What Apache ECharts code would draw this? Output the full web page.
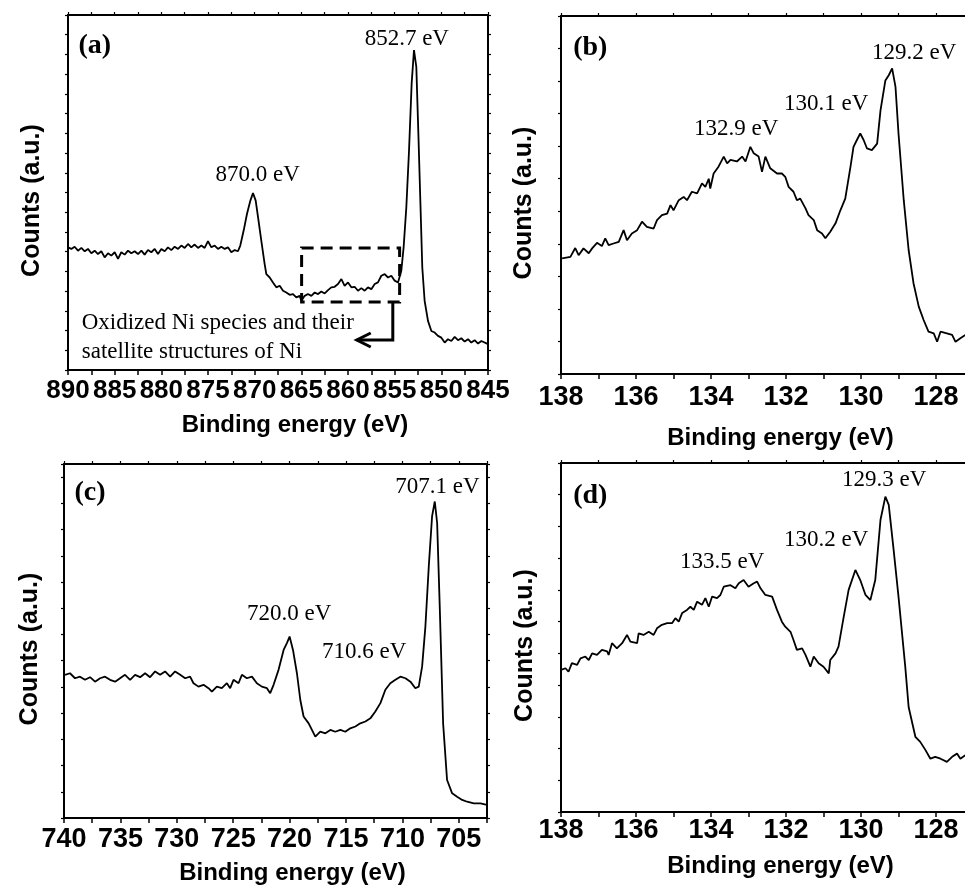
<!DOCTYPE html>
<html><head><meta charset="utf-8">
<script src="https://cdn.jsdelivr.net/npm/echarts@6/dist/echarts.min.js"></script>
<style>html,body{margin:0;padding:0;background:#fff}#c{width:965px;height:886px}</style>
</head><body><div id="c"></div>
<script>
// ---- data: [binding energy (eV), counts (a.u.)] ----
const ni2pSpectrum = [
[890,6.22],[889.64,6.14],[889.29,6.25],[888.93,6.05],[888.57,6.19],[888.21,6.02],[887.86,6.14],[887.5,5.92],[887.14,6.05],[886.79,5.88],
[886.43,6.02],[886.07,5.71],[885.71,5.92],[885.36,5.8],[885.0,5.97],[884.64,5.63],[884.29,5.97],[883.93,5.85],[883.57,6.05],[883.21,5.92],
[882.86,6.02],[882.5,5.88],[882.14,6.05],[881.79,5.85],[881.43,6.08],[881.07,5.97],[880.71,6.14],[880.36,5.88],[880.0,6.14],[879.64,6.02],
[879.29,6.22],[878.93,6.08],[878.57,6.25],[878.21,6.14],[877.86,6.31],[877.5,6.19],[877.14,6.39],[876.79,6.22],[876.43,6.36],[876.07,6.19],
[875.71,6.31],[875.36,6.19],[875.0,6.53],[874.64,6.22],[874.29,6.31],[873.93,6.14],[873.57,6.25],[873.21,6.14],[872.86,6.22],[872.5,5.97],
[872.14,6.08],[871.79,6.02],
[871.54,6.31],[871.18,7.07],[870.82,7.92],[870.46,8.59],[870.18,8.97],[869.89,8.59],[869.64,7.75],[869.29,6.56],[868.93,5.37],
[868.75,4.86],[868.39,4.69],[868.04,4.44],[867.68,4.19],[867.32,4.27],[866.96,4.02],[866.61,3.93],[866.25,3.81],[865.89,3.85],[865.54,3.68],[865.18,3.76],[865.0,3.51],
[864.64,3.76],[864.29,3.85],[863.93,3.76],[863.57,3.93],[863.21,3.85],[862.86,3.98],[862.5,3.88],[862.14,4.05],[861.79,4.19],[861.43,4.22],
[861.07,4.36],[860.71,4.61],[860.36,4.27],[860.0,4.44],[859.64,4.19],[859.29,4.22],[858.93,4.02],[858.57,4.15],[858.21,4.02],[857.86,4.19],
[857.5,4.1],[857.14,4.36],[856.79,4.44],[856.43,4.78],[856.07,4.86],[855.71,4.69],[855.36,4.78],[855.0,4.53],[854.64,4.44],[854.29,5.03],
[854.04,6.22],[853.75,8.25],[853.46,11.14],[853.18,14.53],[852.93,16.22],[852.68,15.37],[852.46,11.98],[852.25,8.59],[852.04,5.2],[851.79,3.51],
[851.43,2.49],[851.07,1.98],[850.71,1.9],[850.36,1.73],[850.0,1.64],[849.64,1.39],[849.29,1.56],[848.93,1.47],[848.57,1.68],[848.21,1.51],
[847.86,1.61],[847.5,1.44],[847.14,1.56],[846.79,1.39],[846.43,1.51],[846.07,1.34],[845.71,1.47],[845.0,1.31]
];
const p2pSpectrumB = [
[137.97,3.55],[137.75,3.6],[137.62,3.87],[137.53,3.65],[137.4,3.86],[137.26,3.71],[137.17,3.86],[137.04,4.03],[136.91,3.93],[136.82,4.17],
[136.73,3.96],[136.6,4.01],[136.46,4.06],[136.33,4.42],[136.24,4.11],[136.11,4.32],[135.97,4.42],[135.84,4.68],[135.71,4.52],[135.53,4.47],
[135.44,4.73],[135.31,4.88],[135.17,4.93],[135.08,5.19],[135.0,5.03],[134.86,5.34],[134.73,5.44],[134.64,5.34],[134.51,5.6],[134.37,5.55],
[134.24,5.86],[134.15,5.75],[134.06,6.0],[134.02,5.7],[133.93,6.16],[133.8,6.37],[133.66,6.68],[133.57,6.47],[133.48,6.58],[133.31,6.53],
[133.17,6.68],[133.08,6.53],[132.95,6.98],[132.86,6.78],[132.73,6.68],[132.64,6.21],[132.55,6.68],[132.42,6.32],[132.24,6.16],[132.11,6.16],
[132.02,6.06],[131.93,5.75],[131.8,5.6],[131.71,5.34],[131.62,5.39],[131.48,5.09],[131.4,4.88],[131.26,4.73],[131.17,4.42],[131.04,4.32],
[130.95,4.17],[130.82,4.37],[130.68,4.63],[130.55,5.03],[130.42,5.39],[130.28,6.37],[130.2,6.98],[130.11,7.19],[130.02,7.39],[129.93,7.19],
[129.84,6.93],[129.71,6.88],[129.57,7.08],[129.48,8.1],[129.35,9.02],[129.26,9.18],[129.17,9.39],[129.08,8.82],[129.0,7.39],[128.86,5.34],
[128.73,3.81],[128.6,2.79],[128.46,2.07],[128.33,1.66],[128.2,1.3],[128.06,1.25],[127.97,0.99],[127.88,1.3],[127.71,1.25],[127.57,1.2],
[127.48,0.99],[127.35,1.1],[127.22,1.2]
];
const fe2pSpectrum = [
[739.91,5.46],[739.47,5.52],[739.02,5.33],[738.58,5.39],[738.14,5.27],[737.69,5.37],[737.25,5.2],[736.8,5.33],[736.36,5.39],[735.92,5.27],
[735.47,5.2],[735.03,5.33],[734.59,5.46],[734.14,5.27],[733.7,5.46],[733.25,5.37],[732.81,5.52],[732.37,5.37],[731.92,5.59],[731.48,5.46],
[731.04,5.59],[730.59,5.39],[730.15,5.59],[729.7,5.46],[729.26,5.33],[728.82,5.39],[728.52,5.14],[728.08,5.01],[727.63,5.08],[727.19,4.95],
[726.89,4.82],[726.45,5.01],[726.01,4.95],[725.56,5.14],[725.27,4.95],[724.97,5.27],[724.53,5.14],[724.23,5.46],[723.79,5.33],[723.34,5.39],
[722.9,5.14],[722.46,5.01],[722.01,4.95],[721.72,4.76],[721.42,5.08],[720.98,5.65],[720.53,6.41],[720.24,6.67],[720.0,6.92],[719.7,6.41],
[719.35,5.52],[719.05,4.5],[718.76,3.87],[718.31,3.61],[718.02,3.36],[717.72,3.1],[717.28,3.29],[716.83,3.23],[716.39,3.36],[715.95,3.29],
[715.5,3.36],[715.06,3.29],[714.62,3.42],[714.17,3.49],[713.73,3.61],[713.28,3.68],[712.84,3.8],[712.4,4.06],[711.95,4.38],[711.51,4.89],
[711.07,5.14],[710.62,5.27],[710.18,5.39],[709.73,5.33],[709.29,5.2],[708.85,4.95],[708.55,5.01],[708.25,5.78],[707.96,7.31],[707.66,9.6],
[707.37,11.5],[707.13,12.07],[706.92,11.25],[706.69,8.07],[706.39,3.61],[706.04,1.45],[705.59,0.94],[705.15,0.81],[704.7,0.69],[704.26,0.62],
[703.67,0.56],[703.08,0.56],[702.5,0.5]
];
const p2pSpectrumD = [
[138.0,4.48],[137.88,4.53],[137.8,4.42],[137.71,4.69],[137.57,4.64],[137.48,4.84],[137.35,4.9],[137.26,4.79],[137.17,5.0],[137.04,4.95],
[136.91,5.11],[136.77,5.06],[136.73,4.95],[136.64,5.32],[136.51,5.16],[136.37,5.32],[136.24,5.58],[136.15,5.37],[135.97,5.32],[135.93,5.63],
[135.8,5.58],[135.66,5.68],[135.53,5.58],[135.44,5.79],[135.31,5.9],[135.17,5.95],[135.04,5.95],[134.95,6.11],[134.86,6.0],[134.77,6.27],
[134.64,6.37],[134.55,6.47],[134.46,6.37],[134.37,6.63],[134.24,6.53],[134.15,6.74],[134.06,6.47],[133.97,6.79],[133.84,6.74],[133.75,6.84],
[133.66,7.1],[133.48,7.15],[133.35,7.05],[133.26,7.21],[133.13,7.31],[133.0,7.1],[132.86,7.21],[132.77,7.26],[132.68,7.05],[132.55,6.84],
[132.37,6.79],[132.24,6.37],[132.11,6.0],[132.02,5.84],[131.88,5.68],[131.8,5.42],[131.71,5.11],[131.57,5.16],[131.48,4.95],[131.35,4.58],
[131.26,4.9],[131.13,4.69],[131.0,4.58],[130.86,4.37],[130.82,4.79],[130.68,5.0],[130.6,5.21],[130.46,6.16],[130.33,7.0],[130.15,7.63],
[130.02,7.31],[129.88,6.84],[129.75,6.68],[129.62,7.31],[129.48,9.21],[129.35,9.94],[129.26,9.68],[129.13,8.26],[129.0,6.79],[128.82,4.58],
[128.73,3.31],[128.55,2.37],[128.42,2.21],[128.28,1.95],[128.15,1.68],[128.02,1.74],[127.88,1.68],[127.71,1.58],[127.57,1.74],[127.44,1.84],
[127.35,1.68],[127.22,1.79]
];
const spectra = [ni2pSpectrum, p2pSpectrumB, fe2pSpectrum, p2pSpectrumD];

// ---- axes ----
const xRanges = [[890, 845], [138, 127.2], [740, 702.5], [138, 127.2]]; // left -> right
const xTickSteps = [5, 2, 5, 2];
const yTops = [18, 11, 13.5, 11];
const xTitle = 'Binding energy (eV)';
const yTitle = 'Counts (a.u.)';
const panelTags = ['(a)', '(b)', '(c)', '(d)'];

// ---- annotations (data coordinates) ----
const tagAt = [[887.13, 16.43], [137.22, 10.02], [737.69, 12.4], [137.22, 9.96]];
const peakLabels = [
  {panel: 0, text: '852.7 eV', at: [853.7, 16.78]},
  {panel: 0, text: '870.0 eV', at: [869.67, 9.91]},
  {panel: 1, text: '129.2 eV', at: [128.58, 9.86]},
  {panel: 1, text: '130.1 eV', at: [130.93, 8.29]},
  {panel: 1, text: '132.9 eV', at: [133.33, 7.53]},
  {panel: 2, text: '707.1 eV', at: [706.9, 12.62]},
  {panel: 2, text: '720.0 eV', at: [720.04, 7.78]},
  {panel: 2, text: '710.6 eV', at: [713.38, 6.33]},
  {panel: 3, text: '129.3 eV', at: [129.38, 10.46]},
  {panel: 3, text: '130.2 eV', at: [130.93, 8.57]},
  {panel: 3, text: '133.5 eV', at: [133.7, 7.88]}
];
const noteLines = ['Oxidized Ni species and their', 'satellite structures of Ni'];
const noteAt = [[888.53, 2.38], [888.53, 0.91]];
const satBox = [[864.97, 6.19], [854.47, 3.45]];
const arrowPath = [[855.2, 3.45], [855.2, 1.52], [859.06, 1.52]];

// ---- layout ----
const layout = [
  {left: 68,  top: 15,  width: 420, height: 355, lblMargin: 8,  xGap: 43, yGap: 23, tick: 26},
  {left: 561, top: 16,  width: 405, height: 358, lblMargin: 10, xGap: 52, yGap: 24, tick: 27},
  {left: 64,  top: 464, width: 423, height: 354, lblMargin: 8,  xGap: 43, yGap: 21, tick: 27},
  {left: 561, top: 463, width: 405, height: 349, lblMargin: 5,  xGap: 42, yGap: 23, tick: 27}
];

function fontAvailable(name) {
  const ctx = document.createElement('canvas').getContext('2d');
  const s = 'Binding energy 0123456789';
  ctx.font = 'bold 40px monospace';
  const a = ctx.measureText(s).width;
  ctx.font = 'bold 40px "' + name + '", monospace';
  const b = ctx.measureText(s).width;
  return Math.abs(a - b) > 0.5;
}
const narrow = fontAvailable('Liberation Sans Narrow');
const SANS = narrow ? '"Liberation Sans Narrow", "Liberation Sans", Arial, sans-serif' : '"Liberation Sans", Arial, sans-serif';
const xTitleSize = narrow ? 28 : 24;
const yTitleSize = narrow ? 30 : 25;
const SERIF = '"Liberation Serif", "Times New Roman", serif';

const chart = echarts.init(document.getElementById('c'), null, {renderer: 'canvas'});
const grid = [], xAxis = [], yAxis = [], series = [];
const black = '#000';
for (let i = 0; i < 4; i++) {
  const L = layout[i];
  grid.push({left: L.left, top: L.top, width: L.width, height: L.height, containLabel: false, outerBoundsMode: 'none'});
  const min = -xRanges[i][0], max = -xRanges[i][1], step = xTickSteps[i];
  xAxis.push({
    type: 'value', gridIndex: i, position: 'bottom', min: min, max: max, interval: step,
    axisLine: {show: true, onZero: false, lineStyle: {color: black, width: 2}},
    axisTick: {show: true, inside: false, length: 5, lineStyle: {color: black, width: 1.5}},
    minorTick: {show: true, splitNumber: 2, length: 5, lineStyle: {color: black, width: 1.5}},
    splitLine: {show: false}, minorSplitLine: {show: false},
    axisLabel: {
      show: true, margin: L.lblMargin, color: black, fontFamily: SANS, fontWeight: 'bold', fontSize: narrow ? 31 : L.tick,
      showMinLabel: true, showMaxLabel: true,
      formatter: function (v) { const e = -v; const r = e / step; return Math.abs(r - Math.round(r)) < 1e-6 ? String(Math.round(e)) : ''; }
    },
    name: xTitle, nameLocation: 'middle', nameGap: L.xGap,
    nameTextStyle: {color: black, fontFamily: SANS, fontWeight: 'bold', fontSize: xTitleSize, padding: [0, 0, 0, 34]}
  });
  xAxis.push({
    type: 'value', gridIndex: i, position: 'top', min: min, max: max, interval: step / 2,
    axisLine: {show: true, onZero: false, lineStyle: {color: black, width: 2}},
    axisTick: {show: true, inside: false, length: 3, lineStyle: {color: black, width: 1.2}},
    axisLabel: {show: false}, splitLine: {show: false}
  });
  yAxis.push({
    type: 'value', gridIndex: i, position: 'left', min: 0, max: yTops[i], interval: 1,
    axisLine: {show: true, onZero: false, lineStyle: {color: black, width: 2}},
    axisTick: {show: true, inside: false, length: 3, lineStyle: {color: black, width: 1.2}},
    axisLabel: {show: false}, splitLine: {show: false},
    name: yTitle, nameLocation: 'middle', nameGap: L.yGap,
    nameTextStyle: {color: black, fontFamily: SANS, fontWeight: 'bold', fontSize: yTitleSize, padding: [0, 16, 0, 0]}
  });
  yAxis.push({
    type: 'value', gridIndex: i, position: 'right', min: 0, max: yTops[i], interval: 1,
    axisLine: {show: true, onZero: false, lineStyle: {color: black, width: 2}},
    axisTick: {show: true, inside: false, length: 3, lineStyle: {color: black, width: 1.2}},
    axisLabel: {show: false}, splitLine: {show: false}
  });
  series.push({
    type: 'line', xAxisIndex: 2 * i, yAxisIndex: 2 * i,
    data: spectra[i].map(function (p) { return [-p[0], p[1]]; }),
    showSymbol: false, symbol: 'none', silent: true,
    lineStyle: {color: black, width: 1.8}
  });
}
chart.setOption({animation: false, backgroundColor: '#fff', grid: grid, xAxis: xAxis, yAxis: yAxis, series: series});

function px(i, p) { return chart.convertToPixel({seriesIndex: i}, [-p[0], p[1]]); }
const els = [];
function txt(p, text, size, weight, family, align) {
  els.push({type: 'text', x: p[0], y: p[1], silent: true, z: 100,
    style: {text: text, fill: black, fontSize: size, fontWeight: weight, fontFamily: family,
      align: align, verticalAlign: 'middle', textAlign: align, textVerticalAlign: 'middle'}});
}
for (let i = 0; i < 4; i++) txt(px(i, tagAt[i]), panelTags[i], 28, 'bold', SERIF, 'center');
peakLabels.forEach(function (l) { txt(px(l.panel, l.at), l.text, 23, 'normal', SERIF, 'center'); });
noteLines.forEach(function (t, k) { txt(px(0, noteAt[k]), t, 23, 'normal', SERIF, 'left'); });
const b0 = px(0, satBox[0]), b1 = px(0, satBox[1]);
els.push({type: 'rect', silent: true, z: 100, shape: {x: b0[0], y: b0[1], width: b1[0] - b0[0], height: b1[1] - b0[1]},
  style: {fill: 'none', stroke: black, lineWidth: 3, lineDash: [12, 7]}});
const ap = arrowPath.map(function (p) { return px(0, p); });
els.push({type: 'polyline', silent: true, z: 100, shape: {points: ap}, style: {fill: 'none', stroke: black, lineWidth: 3}});
const tip = ap[ap.length - 1];
els.push({type: 'polyline', silent: true, z: 100, shape: {points: [[tip[0] + 14, tip[1] - 7], tip, [tip[0] + 14, tip[1] + 7]]},
  style: {fill: 'none', stroke: black, lineWidth: 3}});
chart.setOption({graphic: {elements: els}});
</script></body></html>
